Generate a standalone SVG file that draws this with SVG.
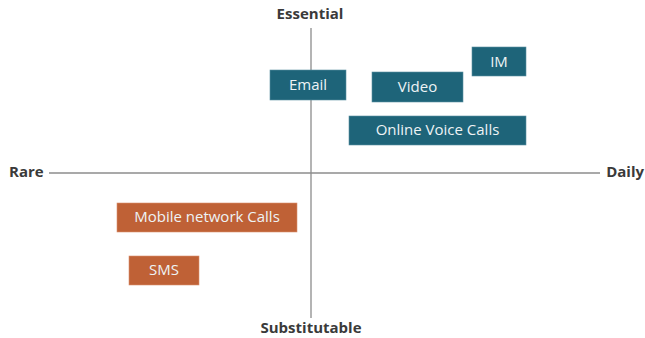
<svg xmlns="http://www.w3.org/2000/svg" width="645" height="338" viewBox="0 0 645 338">
<style>
.axis{stroke:#8c8c8c;stroke-width:1.3;fill:none}
.al{font-family:"Open Sans","Liberation Sans",Arial,sans-serif;font-size:15px;font-weight:bold;fill:#3a3a3a}
.t{fill:#1e6479;stroke:#5a8fa0;stroke-width:0.6}
.o{fill:#bf6136;stroke:#d99070;stroke-width:0.6}
.lb{font-family:"Open Sans","Liberation Sans",Arial,sans-serif;font-size:15px;fill:#eef3f5;text-anchor:middle}
</style>
<rect width="645" height="338" fill="#ffffff"/>
<g id="connectors">
<line class="axis" x1="311" y1="28" x2="311" y2="318"/>
<line class="axis" x1="49" y1="173" x2="600" y2="173"/>
</g>
<g id="essential"><text class="al" x="310" y="19" text-anchor="middle">Essential</text></g>
<g id="substitutable"><text class="al" x="311" y="333" text-anchor="middle">Substitutable</text></g>
<g id="rare"><text class="al" x="9" y="177">Rare</text></g>
<g id="daily"><text class="al" x="644" y="177" text-anchor="end">Daily</text></g>
<g id="email"><rect class="t" x="270" y="70" width="76" height="30"/><text class="lb" x="308" y="90">Email</text></g>
<g id="video"><rect class="t" x="372" y="72" width="91" height="30"/><text class="lb" x="417.5" y="92">Video</text></g>
<g id="im"><rect class="t" x="472" y="47" width="54" height="29"/><text class="lb" x="499" y="67">IM</text></g>
<g id="online"><rect class="t" x="349" y="116" width="177" height="29"/><text class="lb" x="437.5" y="135">Online Voice Calls</text></g>
<g id="mobile"><rect class="o" x="117" y="203" width="180" height="29"/><text class="lb" x="207" y="222">Mobile network Calls</text></g>
<g id="sms"><rect class="o" x="129" y="256" width="70" height="29"/><text class="lb" x="164" y="275">SMS</text></g>
</svg>
